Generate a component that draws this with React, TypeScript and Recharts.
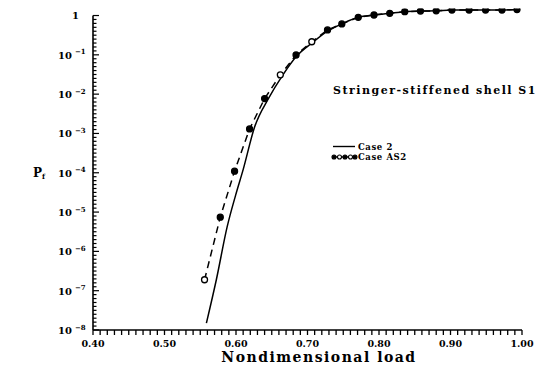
import React from 'react';
import { LineChart, Line, XAxis, YAxis, ReferenceLine, Customized } from 'recharts';

// Nondimensional load values and probability of failure P_f
const case2Load = [0.5586, 0.5725, 0.5876, 0.5995, 0.61, 0.626, 0.6455, 0.6654, 0.685, 0.7068, 0.728, 0.748, 0.771, 0.793, 0.815, 0.836, 0.858, 0.88, 0.902, 0.926, 0.949, 0.972, 0.993];
const case2Pf = [1.5e-8, 1.9e-7, 4.2e-6, 2.7e-5, 1.2e-4, 1.46e-3, 7.8e-3, 0.0306, 0.093, 0.203, 0.4, 0.61, 0.9, 1.03, 1.14, 1.25, 1.3, 1.32, 1.38, 1.38, 1.38, 1.38, 1.42];

const as2Load = [0.556, 0.578, 0.598, 0.619, 0.64, 0.662, 0.684, 0.706, 0.728, 0.748, 0.771, 0.793, 0.815, 0.836, 0.858, 0.88, 0.902, 0.926, 0.949, 0.972, 0.993];
const as2Pf = [1.9e-7, 7.4e-6, 1.1e-4, 1.3e-3, 7.7e-3, 0.031, 0.099, 0.215, 0.43, 0.61, 0.9, 1.03, 1.14, 1.25, 1.3, 1.32, 1.38, 1.38, 1.38, 1.38, 1.42];
// runs computed with the alternate sampling are drawn as hollow markers
const as2Hollow = [0.556, 0.662, 0.706];

const loadLabels = ['0.40', '0.50', '0.60', '0.70', '0.80', '0.90', '1.00'];
const decadeExponents = [0, -1, -2, -3, -4, -5, -6, -7, -8];

const case2Data = case2Load.map((load, i) => ({ load, pf: case2Pf[i] }));
const as2Data = as2Load.map((load, i) => ({ load, pf: as2Pf[i] }));

// every 0.01 along the load axis gets a small tick
const loadTicks = Array.from({ length: 61 }, (_, i) => Math.round((0.4 + i * 0.01) * 100) / 100);
// ten evenly spaced ticks per decade on the P_f axis
const pfTicks: number[] = [];
for (let d = -8; d < 0; d++) {
  for (let k = 0; k < 10; k++) pfTicks.push(Math.pow(10, d + k / 10));
}
pfTicks.push(1);

const FONT = '"DejaVu Serif", serif';

const XTick = (props: any) => {
  const { x, y, payload } = props;
  const v = payload.value as number;
  const hundredths = Math.round(v * 100);
  const label = loadLabels.find((s) => Math.round(parseFloat(s) * 100) === hundredths);
  return (
    <g>
      <line x1={x} y1={y} x2={x} y2={y + 5} stroke="#000" strokeWidth={1.3} />
      {label && (
        <text x={x} y={y + 16.5} textAnchor="middle" fontFamily={FONT} fontWeight="bold" fontSize={9.5} fill="#000">
          {label}
        </text>
      )}
    </g>
  );
};

const YTick = (props: any) => {
  const { x, y, payload } = props;
  const v = payload.value as number;
  const lg = Math.log10(v);
  const exp = Math.round(lg);
  const isDecade = Math.abs(lg - exp) < 1e-6 && decadeExponents.includes(exp);
  return (
    <g>
      <line x1={x} y1={y} x2={x + (isDecade ? 6 : 3.5)} y2={y} stroke="#000" strokeWidth={1.2} />
      {isDecade && exp === 0 && (
        <text x={x - 14} y={y + 3.5} textAnchor="end" fontFamily={FONT} fontWeight="bold" fontSize={10} fill="#000">
          1
        </text>
      )}
      {isDecade && exp !== 0 && (
        <g>
          <text x={x - 21} y={y + 4} textAnchor="end" fontFamily={FONT} fontWeight="bold" fontSize={10} fill="#000">
            10
          </text>
          <text x={x - 18} y={y - 0.5} textAnchor="start" fontFamily={FONT} fontWeight="bold" fontSize={7} fill="#000">
            {String(exp).replace('-', '\u2212')}
          </text>
        </g>
      )}
    </g>
  );
};

const AS2Dot = (props: any) => {
  const { cx, cy, payload, index } = props;
  const hollow = as2Hollow.includes(payload.load);
  return (
    <circle key={`as2-${index}`} cx={cx} cy={cy} r={3} fill={hollow ? '#fff' : '#000'} stroke="#000" strokeWidth={1.3} />
  );
};

const Annotations = () => (
  <g fontFamily={FONT} fontWeight="bold" fill="#000">
    <text x={333} y={94} fontSize={11} letterSpacing={1.5}>Stringer-stiffened shell S1</text>
    {/* legend */}
    <line x1={333} y1={146.5} x2={355} y2={146.5} stroke="#000" strokeWidth={1.4} />
    <text x={358} y={149.5} fontSize={8.5} letterSpacing={0.6}>Case 2</text>
    <line x1={333} y1={157} x2={355} y2={157} stroke="#000" strokeWidth={1.4} />
    {[334, 339.5, 345, 350.5, 355].map((cx, i) => (
      <circle key={cx} cx={cx} cy={157} r={2} fill={i % 2 === 0 ? '#000' : '#fff'} stroke="#000" strokeWidth={1.1} />
    ))}
    <text x={358} y={160} fontSize={8.5} letterSpacing={0.6}>Case AS2</text>
    {/* vertical axis title */}
    <text x={33} y={177} fontSize={12}>
      P<tspan fontSize={7} dy={2}>f</tspan>
    </text>
    <text x={319} y={362} fontSize={14} letterSpacing={1.5} textAnchor="middle">Nondimensional load</text>
  </g>
);

export default function App() {
  return (
    <div style={{ position: 'absolute', left: 0, top: 0, background: '#fff' }}>
      <LineChart width={546} height={372} margin={{ top: 8.6, right: 24, bottom: 0, left: 0 }}>
        <XAxis
          dataKey="load"
          type="number"
          domain={[0.4, 1.0]}
          ticks={loadTicks}
          interval={0}
          tickLine={false}
          tickSize={0}
          tickMargin={0}
          tick={<XTick />}
          height={42}
          axisLine={{ stroke: '#000', strokeWidth: 1.6 }}
          allowDataOverflow
        />
        <YAxis
          dataKey="pf"
          type="number"
          scale="log"
          domain={[1e-8, 1.5]}
          ticks={pfTicks}
          interval={0}
          tickLine={false}
          tickSize={0}
          tickMargin={0}
          tick={<YTick />}
          width={93}
          axisLine={false}
          allowDataOverflow
        />
        <ReferenceLine
          segment={[{ x: 0.4, y: 1e-8 }, { x: 0.4, y: 1 }]}
          stroke="#000"
          strokeWidth={1.6}
          ifOverflow="visible"
        />
        <Line
          data={case2Data}
          dataKey="pf"
          type="monotone"
          stroke="#000"
          strokeWidth={1.5}
          dot={false}
          isAnimationActive={false}
        />
        <Line
          data={as2Data}
          dataKey="pf"
          type="linear"
          stroke="#000"
          strokeWidth={1.5}
          strokeDasharray="7 5"
          dot={<AS2Dot />}
          isAnimationActive={false}
        />
        <Customized component={Annotations} />
      </LineChart>
    </div>
  );
}
